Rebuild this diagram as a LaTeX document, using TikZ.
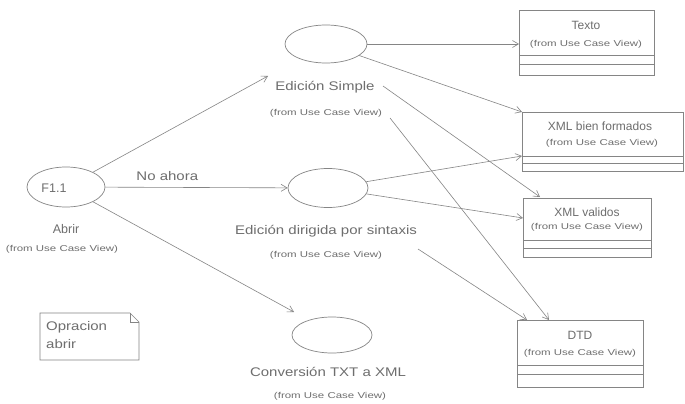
\documentclass[tikz,border=0pt]{standalone}
\usepackage{fontspec}
\setmainfont{Liberation Sans}[FakeStretch=1.2]
\newfontfamily\plainsans{Liberation Sans}
\usetikzlibrary{shapes.geometric,arrows.meta}
\definecolor{txt}{HTML}{6E6E6E}
\definecolor{ln}{HTML}{858585}
\newcommand\fromview{\scalebox{1.35}[1]{\plainsans\fontsize{8.5}{10}\selectfont(from Use Case View)}}
\begin{document}
\begin{tikzpicture}[x=1pt,y=-1pt,
  uc/.style={ellipse,draw=ln,line width=0.7pt,minimum width=80pt,minimum height=39pt,inner sep=0pt},
  lbl/.style={text=txt,font=\fontsize{12.5}{15}\selectfont,inner sep=0pt},
  plbl/.style={text=txt,font=\plainsans\fontsize{12.5}{15}\selectfont,inner sep=0pt},
  ttl/.style={text=txt,font=\plainsans\fontsize{12}{14}\selectfont,inner sep=0pt},
  sub/.style={text=txt,inner sep=0pt},
  cls/.style={draw=ln,line width=0.7pt,rectangle,anchor=north west,inner sep=0pt},
  rel/.style={draw=ln,line width=0.6pt,-{Straight Barb[length=6pt,width=7pt]}},
  cmp/.style={draw=ln,line width=0.6pt}]
\useasboundingbox (0,0) rectangle (685,404);
\fill[white] (0,0) rectangle (685,404);
% use cases
\node[uc,minimum width=78pt,minimum height=40pt] (abrir) at (66,187) {};
\node[plbl] (abririd) at (54,188) {F1.1};
\node[plbl] (abrirlbl) at (66,229) {Abrir};
\node[sub] (abrirsub) at (62,249) {\fromview};
\node[uc,minimum width=82pt,minimum height=38pt] (simple) at (326,44) {};
\node[lbl] (simplelbl) at (325,87) {Edición Simple};
\node[sub] (simplesub) at (326,113) {\fromview};
\node[uc] (dirig) at (328,188) {};
\node[lbl] (diriglbl) at (326,231) {Edición dirigida por sintaxis};
\node[sub] (dirigsub) at (326,255) {\fromview};
\node[uc,minimum height=36pt] (conv) at (332,335) {};
\node[lbl] (convlbl) at (328,372) {Conversión TXT a XML};
\node[sub] (convsub) at (330,396) {\fromview};
% classes
\node[cls,minimum width=135pt,minimum height=65pt] (texto) at (519,10) {};
\node[ttl] (textottl) at (586,25) {Texto};
\node[sub] (textosub) at (586,44) {\fromview};
\draw[cmp] (texto.west |- 0,55) -- (texto.east |- 0,55);
\draw[cmp] (texto.west |- 0,64) -- (texto.east |- 0,64);
\node[cls,minimum width=161pt,minimum height=59pt] (bien) at (522,112) {};
\node[ttl] (bienttl) at (600,126) {XML bien formados};
\node[sub] (biensub) at (602,143) {\fromview};
\draw[cmp] (bien.west |- 0,156) -- (bien.east |- 0,156);
\draw[cmp] (bien.west |- 0,163) -- (bien.east |- 0,163);
\node[cls,minimum width=128pt,minimum height=59pt] (valid) at (523,198) {};
\node[ttl] (validttl) at (587,212) {XML validos};
\node[sub] (validsub) at (587,227) {\fromview};
\draw[cmp] (valid.west |- 0,240) -- (valid.east |- 0,240);
\draw[cmp] (valid.west |- 0,248) -- (valid.east |- 0,248);
\node[cls,minimum width=126pt,minimum height=67pt] (dtd) at (517,320) {};
\node[ttl] (dtdttl) at (580,335) {DTD};
\node[sub] (dtdsub) at (580,353) {\fromview};
\draw[cmp] (dtd.west |- 0,365) -- (dtd.east |- 0,365);
\draw[cmp] (dtd.west |- 0,374) -- (dtd.east |- 0,374);
% note
\draw[cmp] (40,313) -- (130,313) -- (139,322) -- (139,360) -- (40,360) -- cycle;
\draw[cmp] (130,313) -- (130,322) -- (139,322);
\node[lbl,anchor=west,align=left,font=\fontsize{12.5}{18}\selectfont] (note) at (46,335) {Opracion\\abrir};
% relations
\coordinate (p1) at (268,76);
\draw[rel] (abrir) -- (p1);
\draw[rel] (abrir) -- node[lbl,pos=0.34,above=6pt] (noahora) {No ahora} (dirig);
\coordinate (p3) at (294,312);
\draw[rel] (abrir) -- (p3);
\draw[rel] (simple.east) -- (simple.east -| texto.west);
\draw[rel] (simple) -- (bien.north west);
\coordinate (s1) at (383,86);
\coordinate (v1) at (540,197);
\draw[rel] (s1) -- (v1);
\coordinate (s2) at (390,118);
\coordinate (d1) at (549,320);
\draw[rel] (s2) -- (d1);
\coordinate (b2) at (522,156);
\draw[rel] (dirig) -- (b2);
\coordinate (v2) at (523,218);
\draw[rel] (dirig) -- (v2);
\coordinate (s3) at (418,249);
\coordinate (d2) at (527,320);
\draw[rel] (s3) -- (d2);
\end{tikzpicture}
\end{document}
